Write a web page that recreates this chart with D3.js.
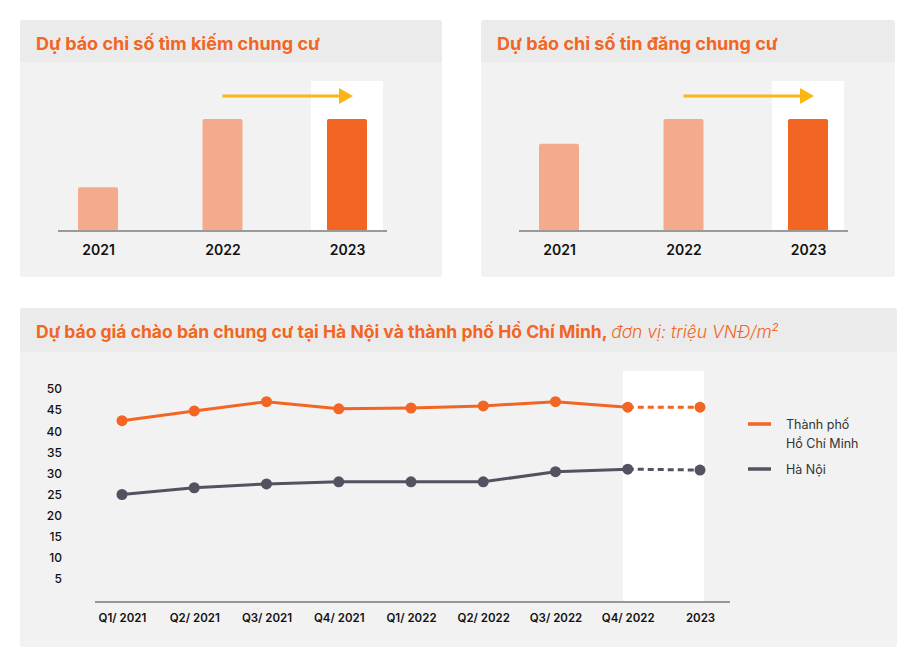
<!DOCTYPE html>
<html><head><meta charset="utf-8">
<script src="https://cdn.jsdelivr.net/npm/d3@7"></script>
<style>body{margin:0;background:#fff}svg{font-family:Inter,"Open Sans",sans-serif}</style>
</head><body><svg id="chart" width="917" height="664"></svg>
<script>
var years = ["2021", "2022", "2023"];
var searchIdx = [39, 100, 100];
var listingIdx = [78, 100, 100];
var quarters = ["Q1/ 2021","Q2/ 2021","Q3/ 2021","Q4/ 2021","Q1/ 2022","Q2/ 2022","Q3/ 2022","Q4/ 2022","2023"];
var hcm = [42.5, 44.8, 47, 45.3, 45.5, 46, 47, 45.7, 45.7];
var hanoi = [25, 26.6, 27.5, 28, 28, 28, 30.4, 31, 30.8];
var yTicks = [5,10,15,20,25,30,35,40,45,50];

var ORANGE = "#f26522", LIGHT = "#f3ab8b", GRAY = "#545261", GOLD = "#fbb614";
var svg = d3.select("#chart");

function panel(x, y, w, h, th){
	svg.append("rect").attr("x",x).attr("y",y).attr("width",w).attr("height",h).attr("rx",3).attr("fill","#f2f2f2");
	svg.append("path").attr("d","M"+x+","+(y+th)+"V"+(y+3)+"q0,-3 3,-3H"+(x+w-3)+"q3,0 3,3V"+(y+th)+"Z").attr("fill","#ebebeb");
}

function barPanel(x0, w, title, vals){
	panel(x0, 20, w, 257, 42);
	svg.append("text").attr("x",x0+16).attr("y",50).attr("fill",ORANGE).attr("font-size",18).attr("font-weight",700).text(title);
	var xs = d3.scalePoint().domain(years).range([x0+78, x0+327]);
	var ys = d3.scaleLinear().domain([0,100]).range([231,119]);
	var bw = 40;
	svg.append("rect").attr("x",xs("2023")-36).attr("y",81).attr("width",72).attr("height",150).attr("fill","#fff");
	svg.selectAll(null).data(vals).enter().append("rect")
		.attr("x",(d,i)=>xs(years[i])-bw/2).attr("y",d=>ys(d)).attr("width",bw).attr("height",d=>231-ys(d))
		.attr("rx",2).attr("fill",(d,i)=>i==2?ORANGE:LIGHT);
	var ax = svg.append("g").attr("transform","translate(0,231)").call(d3.axisBottom(xs).tickSize(0).tickPadding(14));
	ax.select(".domain").attr("d","M"+(x0+38)+",0H"+(x0+367)).attr("stroke","#9a9a9a").attr("stroke-width",2);
	ax.selectAll("text").attr("font-size",14).attr("font-weight",600).attr("fill","#111").attr("font-family","Inter,sans-serif");
	var ax0 = xs("2022"), ax1 = xs("2023");
	svg.append("line").attr("x1",ax0).attr("x2",ax1-6).attr("y1",96).attr("y2",96).attr("stroke",GOLD).attr("stroke-width",3);
	svg.append("path").attr("d","M"+(ax1-8)+",88L"+(ax1+6)+",96L"+(ax1-8)+",104Z").attr("fill",GOLD);
}
barPanel(20, 422, "Dự báo chỉ số tìm kiếm chung cư", searchIdx);
barPanel(481, 414, "Dự báo chỉ số tin đăng chung cư", listingIdx);

// line chart
panel(20, 308, 877, 339, 44);
var t = svg.append("text").attr("x",36).attr("y",338).attr("font-size",17.5).attr("fill",ORANGE);
t.append("tspan").attr("font-weight",700).text("Dự báo giá chào bán chung cư tại Hà Nội và thành phố Hồ Chí Minh, ");
t.append("tspan").attr("font-style","italic").attr("font-weight",300).text("đơn vị: triệu VNĐ/m");
t.append("tspan").attr("font-style","italic").attr("font-size",11).attr("dy",-7).text("2");

var x = d3.scalePoint().domain(quarters).range([122, 700]);
var y = d3.scaleLinear().domain([0, 50]).range([600, 389]);
svg.append("rect").attr("x",623).attr("y",371).attr("width",81).attr("height",231).attr("fill","#fff");
var xa = svg.append("g").attr("transform","translate(0,602)").call(d3.axisBottom(x).tickSize(0).tickPadding(12));
xa.select(".domain").attr("d","M95,0H730").attr("stroke","#777").attr("stroke-width",1.5);
xa.selectAll("text").attr("font-size",11.5).attr("font-weight",600).attr("fill","#111").attr("font-family","Inter,sans-serif");
var ya = svg.append("g").attr("transform","translate(62,0)").call(d3.axisLeft(y).tickValues(yTicks).tickSize(0).tickPadding(0));
ya.select(".domain").remove();
ya.selectAll("text").attr("font-size",12).attr("font-weight",500).attr("fill","#111").attr("font-family","Inter,sans-serif");

function series(vals, col){
	var line = d3.line().x((d,i)=>x(quarters[i])).y(d=>y(d));
	svg.append("path").datum(vals.slice(0,8)).attr("d",line).attr("fill","none").attr("stroke",col).attr("stroke-width",3);
	svg.append("path").datum(vals.slice(7)).attr("d",d3.line().x((d,i)=>x(quarters[i+7])).y(d=>y(d)))
		.attr("fill","none").attr("stroke",col).attr("stroke-width",3).attr("stroke-dasharray","6,4");
	svg.selectAll(null).data(vals).enter().append("circle").attr("cx",(d,i)=>x(quarters[i])).attr("cy",d=>y(d)).attr("r",5.5).attr("fill",col);
}
series(hcm, ORANGE);
series(hanoi, GRAY);

var legend = [{c:ORANGE, y:424, t:["Thành phố","Hồ Chí  Minh"]},{c:GRAY, y:469, t:["Hà Nội"]}];
legend.forEach(function(l){
	svg.append("line").attr("x1",748).attr("x2",771).attr("y1",l.y).attr("y2",l.y).attr("stroke",l.c).attr("stroke-width",3.5);
	l.t.forEach(function(s,i){
		svg.append("text").attr("x",786).attr("y",l.y+5+i*19).attr("font-size",12.5).attr("fill","#333").text(s);
	});
});
</script></body></html>
